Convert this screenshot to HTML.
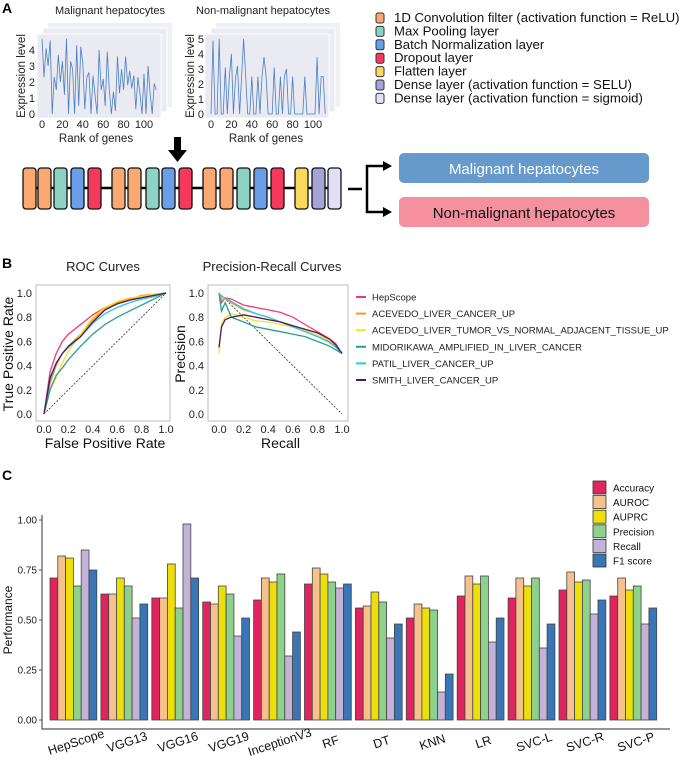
<!DOCTYPE html>
<html><head><meta charset="utf-8"><style>
body{margin:0;background:#fff;}
svg{display:block;font-family:"Liberation Sans",sans-serif;}
</style></head><body>
<svg id="fig" width="685" height="759" viewBox="0 0 685 759">
<text x="2" y="13" font-size="14" font-weight="bold">A</text>
<text x="2" y="268" font-size="14" font-weight="bold">B</text>
<text x="2" y="480" font-size="14" font-weight="bold">C</text>

<g>
<rect x="48" y="23" width="124" height="84" fill="#eef0f6"/>
<rect x="43" y="28" width="124" height="84" fill="#eaecf3" stroke="#fff"/>
<rect x="37" y="34" width="124" height="84" fill="#eaeaf2" stroke="#fff"/>
<text x="110" y="14" font-size="11" fill="#222" text-anchor="middle">Malignant hepatocytes</text>
<text x="96" y="142" font-size="11.5" fill="#222" text-anchor="middle">Rank of genes</text>
<text transform="translate(25,76) rotate(-90)" font-size="11.5" fill="#222" text-anchor="middle">Expression level</text>
<g id="gA1"></g>
</g>
<g>
<rect x="216" y="23" width="124" height="84" fill="#eef0f6"/>
<rect x="211" y="28" width="124" height="84" fill="#eaecf3" stroke="#fff"/>
<rect x="205" y="34" width="124" height="84" fill="#eaeaf2" stroke="#fff"/>
<text x="263" y="14" font-size="11" fill="#222" text-anchor="middle">Non-malignant hepatocytes</text>
<text x="266" y="142" font-size="11.5" fill="#222" text-anchor="middle">Rank of genes</text>
<text transform="translate(194,76) rotate(-90)" font-size="11.5" fill="#222" text-anchor="middle">Expression level</text>
<g id="gA2"></g>
</g>
<g>
<rect x="174" y="137" width="7" height="14" fill="#000"/>
<polygon points="168,150 187,150 177.5,162" fill="#000"/>
</g>
<g id="net">
<line x1="23" y1="188" x2="340" y2="188" stroke="#000" stroke-width="2.5"/>
</g>
<g>
<line x1="348" y1="189" x2="362" y2="189" stroke="#000" stroke-width="2.5"/>
<polyline points="384,166 367,166 367,212 384,212" fill="none" stroke="#000" stroke-width="2.5"/>
<polygon points="383,161 392,166 383,171" fill="#000"/>
<polygon points="383,207 392,212 383,217" fill="#000"/>
</g>
<rect x="399" y="153" width="250" height="30" rx="5" fill="#6699cc"/>
<text x="524" y="174" font-size="15" fill="#fff" text-anchor="middle">Malignant hepatocytes</text>
<rect x="399" y="197" width="250" height="30" rx="5" fill="#f5919e"/>
<text x="524" y="218" font-size="15" fill="#111" text-anchor="middle">Non-malignant hepatocytes</text>
<g id="layerLegend"></g>

<text x="103" y="271" font-size="13" fill="#222" text-anchor="middle">ROC Curves</text>
<text x="272" y="271" font-size="13" fill="#222" text-anchor="middle">Precision-Recall Curves</text>
<g id="roc"></g>
<g id="pr"></g>
<g id="bLegend"></g>

<g id="bar"></g>
</svg>
<script>
const NS="http://www.w3.org/2000/svg";
function mk(parent,tag,attrs,text){const e=document.createElementNS(NS,tag);for(const k in attrs)e.setAttribute(k,attrs[k]);if(text!==undefined)e.textContent=text;parent.appendChild(e);return e;}

const malignantExpr=[4.7,2.3,4.1,3.0,4.6,0,2.3,1.5,3.7,2.0,3.3,1.2,4.7,0,3.3,2.8,0,4.3,0.5,4.2,3.2,0.3,2.3,2.6,0,2.4,1.2,0,4.0,1.5,2.2,0.5,3.9,1.5,0,1.4,0.2,3.6,1.3,2.8,1.5,3.6,1.8,2.7,1.6,2.4,0.3,2.3,1.3,0,2.5,0,3.0,1.3,0,1.9,1.5];
const nonMalignantExpr=[0,4.9,0,0,5.0,0,0,3.1,0,2.5,4.0,0,2.4,3.2,0,2.5,5.0,2.5,0,0,2.5,0,0,2.5,0,2.5,3.8,2.5,0,0,0,3.1,0,0,2.5,0,2.5,3.0,0,0,2.5,0,0,0,0,0,2.5,0,0,0,0,0,3.8,0,2.5,2.5,0];
const rankStep=2;
const malignantYTicks=[0,1,2,3,4];
const nonMalignantYTicks=[0,1,2,3,4,5];
const rankTicks=[0,20,40,60,80,100];

function exprPlot(gid,vals,yt,x0,x100,y0,yPer,labX){
  const g=document.getElementById(gid);
  const sx=r=>x0+(x100-x0)*r/100, sy=v=>y0-v*yPer;
  let d="";vals.forEach((v,i)=>{d+=(i?"L":"M")+sx(i*rankStep).toFixed(1)+","+sy(v).toFixed(1);});
  const p=mk(g,"path",{d:d,fill:"none",stroke:"#4c7fc0","stroke-width":"0.8"});
  
  
  yt.forEach(t=>{const e=mk(g,"text",{x:labX,y:sy(t)+4,"font-size":"11","text-anchor":"end",fill:"#222"},t);
    
    });
  rankTicks.forEach(t=>{const e=mk(g,"text",{x:sx(t),y:128,"font-size":"11","text-anchor":"middle",fill:"#222"},t);
    
    });
}
exprPlot("gA1",malignantExpr,malignantYTicks,42,144,114,16,35);
exprPlot("gA2",nonMalignantExpr,nonMalignantYTicks,211,313,114,15,204);

const layerColors=["#fba873","#8dd3c3","#6b9ee8","#f5395c","#fbd75b","#a6a3d6","#e1e0f6"];
const layerNames=["1D Convolution filter (activation function = ReLU)","Max Pooling layer","Batch Normalization layer","Dropout layer","Flatten layer","Dense layer (activation function = SELU)","Dense layer (activation function = sigmoid)"];
const netLayers=[0,0,1,2,3,0,0,1,2,3,0,0,1,2,3,4,5,6];
const netX=[23,38,54,71,88,112,128,146,162,179,203,220,237,254,271,295,312,328];
const net=document.getElementById("net");
netLayers.forEach((l,i)=>{const r=mk(net,"rect",{x:netX[i],y:168,width:13,height:41,rx:3,fill:layerColors[l],stroke:"#111","stroke-width":"1.3"});
  
  });
const ll=document.getElementById("layerLegend");
layerNames.forEach((n,i)=>{const y=14+i*13.4;
  const r=mk(ll,"rect",{x:376,y:y-1,width:8,height:10,rx:2,fill:layerColors[i],stroke:"#333","stroke-width":"1"});
  
  
  const t=mk(ll,"text",{x:394,y:y+8,"font-size":"13.2",fill:"#111"},n);
  
  });

const curveNames=["HepScope","ACEVEDO_LIVER_CANCER_UP","ACEVEDO_LIVER_TUMOR_VS_NORMAL_ADJACENT_TISSUE_UP","MIDORIKAWA_AMPLIFIED_IN_LIVER_CANCER","PATIL_LIVER_CANCER_UP","SMITH_LIVER_CANCER_UP"];
const curveColors=["#ee3a7d","#f39a1f","#f7e22e","#2a9d8f","#2cc6e8","#4b1a5e"];
const rocFpr=[0,0.05,0.1,0.15,0.2,0.3,0.4,0.5,0.6,0.7,0.8,0.9,1.0];
const rocHep=[0,0.35,0.5,0.6,0.66,0.74,0.82,0.88,0.92,0.95,0.97,0.98,1];
const rocAceUp=[0,0.25,0.4,0.5,0.56,0.66,0.78,0.87,0.92,0.95,0.98,0.99,1];
const rocAceTumor=[0,0.2,0.3,0.42,0.52,0.66,0.8,0.88,0.93,0.96,0.97,0.99,1];
const rocMido=[0,0.2,0.32,0.38,0.45,0.56,0.66,0.74,0.8,0.85,0.9,0.95,1];
const rocPatil=[0,0.28,0.42,0.5,0.55,0.64,0.75,0.83,0.88,0.92,0.95,0.97,1];
const rocSmith=[0,0.3,0.42,0.5,0.56,0.64,0.76,0.86,0.91,0.94,0.96,0.98,1];
const prRecall=[0,0.02,0.05,0.1,0.2,0.3,0.4,0.5,0.6,0.7,0.8,0.9,0.95,1.0];
const prHep=[1,0.92,0.96,0.95,0.9,0.88,0.86,0.84,0.8,0.74,0.68,0.62,0.58,0.5];
const prAceUp=[1,0.95,0.95,0.92,0.86,0.83,0.8,0.76,0.73,0.69,0.65,0.6,0.56,0.5];
const prAceTumor=[0.5,0.75,0.8,0.83,0.8,0.77,0.76,0.74,0.72,0.69,0.65,0.61,0.57,0.5];
const prMido=[1,0.85,0.92,0.8,0.76,0.72,0.7,0.68,0.66,0.64,0.6,0.56,0.53,0.5];
const prPatil=[1,0.97,0.96,0.93,0.87,0.83,0.8,0.76,0.72,0.68,0.64,0.59,0.55,0.5];
const prSmith=[0.55,0.72,0.78,0.8,0.82,0.8,0.78,0.76,0.73,0.7,0.67,0.62,0.57,0.5];
const unitTicks=[0,0.2,0.4,0.6,0.8,1.0];
const rocSeries=[rocHep,rocAceUp,rocAceTumor,rocMido,rocPatil,rocSmith];
const prSeries=[prHep,prAceUp,prAceTumor,prMido,prPatil,prSmith];

function curvePlot(gid,box,x0,x1,xs,series,diag,xTitle,yTitle){
  const g=document.getElementById(gid);
  const y0=414,y1=293;
  const sx=v=>x0+(x1-x0)*v, sy=v=>y0-(y0-y1)*v;
  mk(g,"rect",{x:box[0],y:285,width:box[1]-box[0],height:136,fill:"none",stroke:"#bbb","stroke-width":"1"});
  const dl=mk(g,"line",{x1:sx(diag[0]),y1:sy(diag[1]),x2:sx(diag[2]),y2:sy(diag[3]),stroke:"#333","stroke-width":"0.8","stroke-dasharray":"2,1.5"});
  
  
  series.forEach((s,k)=>{let d="";s.forEach((v,i)=>{d+=(i?"L":"M")+sx(xs[i]).toFixed(1)+","+sy(v).toFixed(1);});
    const p=mk(g,"path",{d:d,fill:"none",stroke:curveColors[k],"stroke-width":"1.3"});
    
    });
  unitTicks.forEach(t=>{
    const a=mk(g,"text",{x:box[0]-4,y:sy(t)+4,"font-size":"11","text-anchor":"end",fill:"#222"},t.toFixed(1));
    
    
    const b=mk(g,"text",{x:sx(t),y:433,"font-size":"11","text-anchor":"middle",fill:"#222"},t.toFixed(1));
    
    });
  const xt=mk(g,"text",{x:(x0+x1)/2,y:448,"font-size":"14","text-anchor":"middle",fill:"#111"},xTitle);
  
  
  const yt=mk(g,"text",{transform:"translate("+(box[0]-23)+",354) rotate(-90)","font-size":"14","text-anchor":"middle",fill:"#111"},yTitle);
  
  
}
curvePlot("roc",[36,170],44,166,rocFpr,rocSeries,[0,0,1,1],"False Positive Rate","True Positive Rate");
curvePlot("pr",[208,348],219,342,prRecall,prSeries,[0,1,1,0],"Recall","Precision");
const bl=document.getElementById("bLegend");
curveNames.forEach((n,i)=>{const y=297+i*16.6;
  const l=mk(bl,"line",{x1:356,y1:y,x2:366,y2:y,stroke:curveColors[i],"stroke-width":"2"});
  
  
  const t=mk(bl,"text",{x:372,y:y+3.5,"font-size":"9.5",fill:"#222"},n);
  
  });

const models=["HepScope","VGG13","VGG16","VGG19","InceptionV3","RF","DT","KNN","LR","SVC-L","SVC-R","SVC-P"];
const metrics=["Accuracy","AUROC","AUPRC","Precision","Recall","F1 score"];
const metricColors=["#e0245e","#f5c28e","#ecdf0c","#8dd18c","#c3b3d8","#3a75b5"];
const accuracy=[0.71,0.63,0.61,0.59,0.60,0.68,0.56,0.51,0.62,0.61,0.65,0.62];
const auroc=[0.82,0.63,0.61,0.58,0.71,0.76,0.57,0.58,0.72,0.71,0.74,0.71];
const auprc=[0.81,0.71,0.78,0.67,0.69,0.73,0.64,0.56,0.68,0.67,0.69,0.65];
const precision=[0.67,0.67,0.56,0.63,0.73,0.69,0.59,0.55,0.72,0.71,0.70,0.67];
const recall=[0.85,0.51,0.98,0.42,0.32,0.66,0.41,0.14,0.39,0.36,0.53,0.48];
const f1score=[0.75,0.58,0.71,0.51,0.44,0.68,0.48,0.23,0.51,0.48,0.60,0.56];
const perfTicks=[0,0.25,0.5,0.75,1.0];
const metricSeries=[accuracy,auroc,auprc,precision,recall,f1score];

(function(){
  const g=document.getElementById("bar");
  const yBase=720,yTop=520,sy=v=>yBase-(yBase-yTop)*v;
  const gx0=50,gStep=50.9,bw=7.8;
  const ax=mk(g,"path",{d:"M42,515 L42,729 L670,729",fill:"none",stroke:"#555","stroke-width":"1.2"});
  
  
  perfTicks.forEach(t=>{
    const tl=mk(g,"text",{x:37,y:sy(t)+3.5,"font-size":"10","text-anchor":"end",fill:"#222"},t.toFixed(2));
    
    
    mk(g,"line",{x1:39,y1:sy(t),x2:42,y2:sy(t),stroke:"#555"});});
  const yt=mk(g,"text",{transform:"translate(12,620) rotate(-90)","font-size":"12","text-anchor":"middle",fill:"#111"},"Performance");
  
  
  models.forEach((m,i)=>{
    const gx=gx0+i*gStep;
    metricSeries.forEach((s,k)=>{
      const v=s[i];
      const r=mk(g,"rect",{x:gx+k*bw,y:sy(v),width:bw,height:sy(0)-sy(v),fill:metricColors[k],stroke:"#444","stroke-width":"0.8"});
      
      });
    const cx=gx+3*bw;
    const lbl=mk(g,"text",{transform:"translate("+(cx+4)+",746) rotate(-18)","font-size":"12.5","text-anchor":"middle",fill:"#111"},m);
    
    });
  metrics.forEach((m,k)=>{const y=481+k*14.6;
    const r=mk(g,"rect",{x:593,y:y,width:13,height:13,fill:metricColors[k],stroke:"#333","stroke-width":"0.8"});
    
    
    const t=mk(g,"text",{x:613,y:y+10.5,"font-size":"10",fill:"#111"},m);
    
    });
})();
</script>
</body></html>
